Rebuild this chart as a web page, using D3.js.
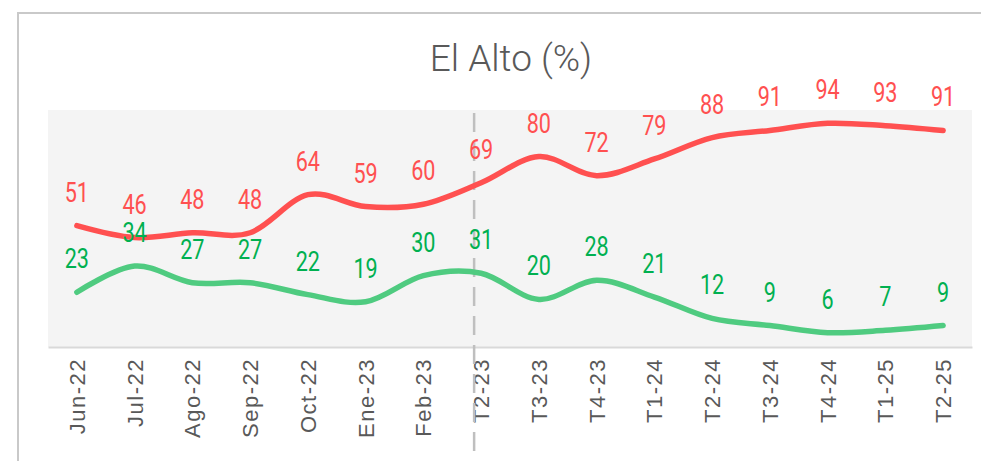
<!DOCTYPE html>
<html>
<head>
<meta charset="utf-8">
<script src="https://cdn.jsdelivr.net/npm/d3@7"></script>
<style>
  body { margin: 0; background: #fff; }
  svg { display: block; }
</style>
</head>
<body>
<div id="chart_area"></div>
<script>
var categories = ["Jun-22", "Jul-22", "Ago-22", "Sep-22", "Oct-22", "Ene-23", "Feb-23",
    "T2-23", "T3-23", "T4-23", "T1-24", "T2-24", "T3-24", "T4-24", "T1-25", "T2-25"];
var redValues = [51, 46, 48, 48, 64, 59, 60, 69, 80, 72, 79, 88, 91, 94, 93, 91];
var greenValues = [23, 34, 27, 27, 22, 19, 30, 31, 20, 28, 21, 12, 9, 6, 7, 9];
var markerCategory = "T2-23";

var frame_width = 981;
var frame_height = 461;
var plot = {left: 48, right: 972, top: 110, bottom: 347};

var frame = d3.select("#chart_area").append("svg")
    .attr("width", frame_width)
    .attr("height", frame_height);

// outer border of the chart box
frame.append("path")
    .attr("d", "M18,470V13H990")
    .attr("fill", "none")
    .attr("stroke", "#c9c9c9")
    .attr("stroke-width", 2);

var xScale = d3.scaleBand().domain(categories).range([plot.left, plot.right]).padding(0);
var yScale = d3.scaleLinear().domain([0, 100]).range([plot.bottom, 109]);
var cx = function(c) { return xScale(c) + xScale.bandwidth() / 2; };

frame.append("rect")
    .attr("x", plot.left).attr("y", plot.top)
    .attr("width", plot.right - plot.left).attr("height", plot.bottom - plot.top)
    .attr("fill", "#f4f4f4");

frame.append("text")
    .attr("x", 511).attr("y", 71)
    .attr("text-anchor", "middle")
    .attr("font-family", "Roboto")
    .attr("font-weight", 300)
    .attr("font-size", 37)
    .attr("fill", "#595959")
    .text("El Alto (%)");

// x axis
var xAxis = d3.axisBottom(xScale).tickSize(0).tickPadding(0);
var gx = frame.append("g")
    .attr("transform", "translate(0," + plot.bottom + ")")
    .call(xAxis);
gx.select(".domain").attr("stroke", "#d9d9d9").attr("stroke-width", 2);
gx.selectAll(".tick text")
    .attr("transform", "translate(0,11) rotate(-90)")
    .attr("x", 0).attr("y", 0).attr("dy", "0.36em")
    .attr("text-anchor", "end")
    .attr("font-family", "Liberation Sans")
    .attr("font-size", 22)
    .attr("letter-spacing", 1.5)
    .attr("fill", "#595959");

// dashed marker line
frame.append("line")
    .attr("x1", cx(markerCategory) - 7).attr("x2", cx(markerCategory) - 7)
    .attr("y1", 113).attr("y2", 458)
    .attr("stroke", "#bfbfbf")
    .attr("stroke-width", 2.5)
    .attr("stroke-dasharray", "19,10");

var series = [
    {values: redValues, line: "#ff5050", label: "#ff5050"},
    {values: greenValues, line: "#4fcb80", label: "#00b050"}
];

var lineGen = d3.line()
    .x(function(d, i) { return cx(categories[i]); })
    .y(function(d) { return yScale(d); })
    .curve(d3.curveCardinal.tension(0));

series.forEach(function(s) {
    frame.append("path")
        .datum(s.values)
        .attr("d", lineGen)
        .attr("fill", "none")
        .attr("stroke", s.line)
        .attr("stroke-width", 5.5)
        .attr("stroke-linecap", "round");
});

series.forEach(function(s) {
    frame.append("g").selectAll("text")
        .data(s.values)
        .enter().append("text")
        .attr("transform", function(d, i) {
            return "translate(" + cx(categories[i]) + "," + (yScale(d) - 24) + ") scale(0.8,1)";
        })
        .attr("text-anchor", "middle")
        .attr("font-family", "Roboto")
        .attr("font-size", 27)
        .attr("fill", s.label)
        .text(function(d) { return d; });
});
</script>
</body>
</html>
